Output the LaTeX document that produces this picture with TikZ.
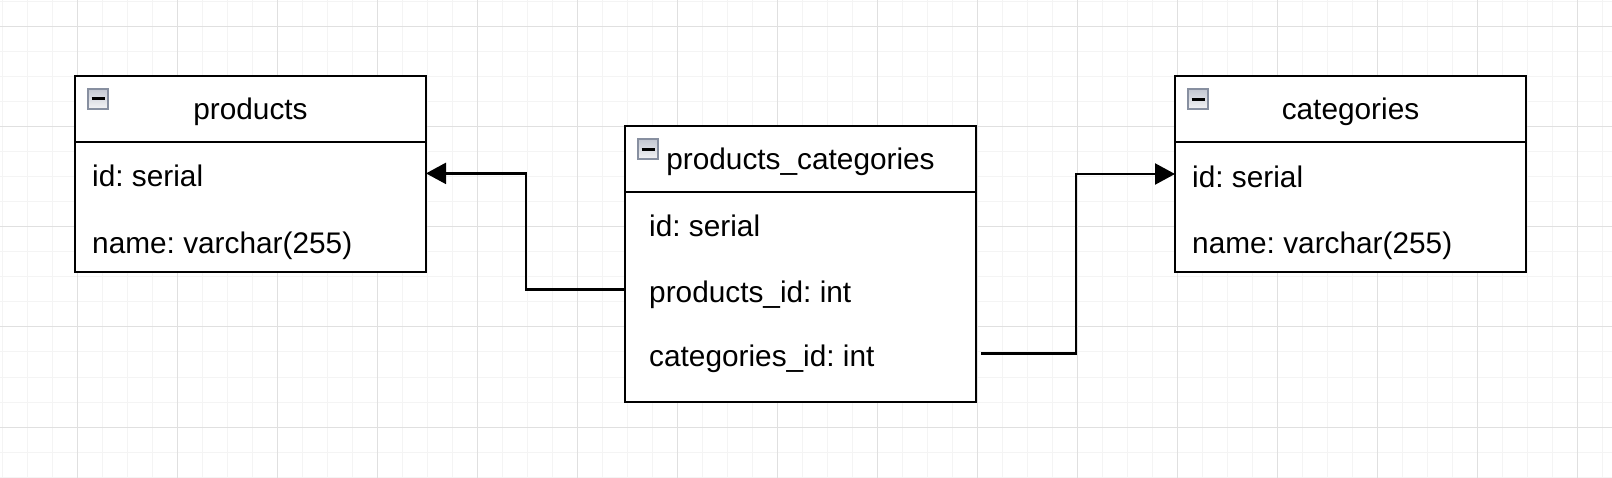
\documentclass[tikz,border=0pt]{standalone}
\usepackage{fontspec}
\setmainfont{Liberation Sans}
\usetikzlibrary{arrows.meta}
\definecolor{gridminor}{RGB}{244,244,244}
\definecolor{gridmajor}{RGB}{224,224,224}
\definecolor{iconborder}{RGB}{135,143,160}
\definecolor{icontop}{RGB}{196,200,210}
\definecolor{iconbot}{RGB}{244,244,246}
\frenchspacing
\begin{document}
\begin{tikzpicture}[x=1pt,y=-1pt,
  tbl/.style={draw=black, line width=2.3pt, fill=white, outer sep=0pt, inner sep=0pt, anchor=north west},
  ttl/.style={anchor=base, inner sep=0pt, font=\fontsize{29.8}{36}\selectfont},
  fld/.style={anchor=west, inner sep=0pt, text height=33.6pt, text depth=7pt, font=\fontsize{29.8}{36}\selectfont},
  iconbox/.style={draw=iconborder, line width=2pt, top color=icontop, bottom color=iconbot, minimum size=20pt, inner sep=0pt, outer sep=0pt},
  minusbar/.style={draw=black, line width=3pt},
  conn/.style={draw=black, line width=2.3pt},
  fkarrow/.style={-{Triangle[length=20pt,width=21pt]}},
  divider/.style={draw=black, line width=2.3pt}
]
\fill[white] (0,0) rectangle (1612,478);
\useasboundingbox (0,0) rectangle (1612,478);
% grid
\foreach \x in {2,27,...,1602} \draw[gridminor, line width=1pt] (\x,0) -- (\x,478);
\foreach \y in {2,27,...,477} \draw[gridminor, line width=1pt] (0,\y) -- (1612,\y);
\foreach \x in {77,177,...,1577} \draw[gridmajor, line width=1pt] (\x,0) -- (\x,478);
\foreach \y in {27,127,...,427} \draw[gridmajor, line width=1pt] (0,\y) -- (1612,\y);

% tables
\node[tbl, minimum width=351pt, minimum height=196pt] (products) at (75,76) {};
\draw[divider] ([yshift=-66pt]products.north west) -- ([yshift=-66pt]products.north east);
\node[tbl, minimum width=351pt, minimum height=276pt] (pc) at (625,126) {};
\draw[divider] ([yshift=-66pt]pc.north west) -- ([yshift=-66pt]pc.north east);
\node[tbl, minimum width=351pt, minimum height=196pt] (categories) at (1175,76) {};
\draw[divider] ([yshift=-66pt]categories.north west) -- ([yshift=-66pt]categories.north east);

% icons
\node[iconbox] (products-icon) at (98,99) {};
\draw[minusbar] ([xshift=-6.5pt]products-icon.center) -- ([xshift=6.5pt]products-icon.center);
\node[iconbox] (pc-icon) at (648,149.5) {};
\draw[minusbar] ([xshift=-6.5pt]pc-icon.center) -- ([xshift=6.5pt]pc-icon.center);
\node[iconbox] (categories-icon) at (1198,99.5) {};
\draw[minusbar] ([xshift=-6.5pt]categories-icon.center) -- ([xshift=6.5pt]categories-icon.center);

% titles
\node[ttl] (products-title) at (250.5,120) {products};
\node[ttl] (pc-title) at (800.5,170) {products\_categories};
\node[ttl] (categories-title) at (1350.5,120) {categories};

% fields
\node[fld] (p-id) at (92,173.4) {id: serial};
\node[fld] (p-name) at (92,240) {name: varchar(255)};
\node[fld] (pc-id) at (649,223.4) {id: serial};
\node[fld] (pc-pid) at (649,289.4) {products\_id: int};
\node[fld] (pc-cid) at (649,353.4) {categories\_id: int};
\node[fld] (c-id) at (1192,174) {id: serial};
\node[fld] (c-name) at (1192,240) {name: varchar(255)};

% connectors
\coordinate (bendL) at (526,0);
\coordinate (bendR) at (1076,0);
\draw[conn, fkarrow] (pc.west |- pc-pid.west) -- (bendL |- pc-pid.west) -- (bendL |- p-id.west) -- (products.east |- p-id.west);
\draw[conn, fkarrow] ([xshift=5pt]pc.east |- pc-cid.west) -- (bendR |- pc-cid.west) -- (bendR |- c-id.west) -- (categories.west |- c-id.west);
\end{tikzpicture}
\end{document}
